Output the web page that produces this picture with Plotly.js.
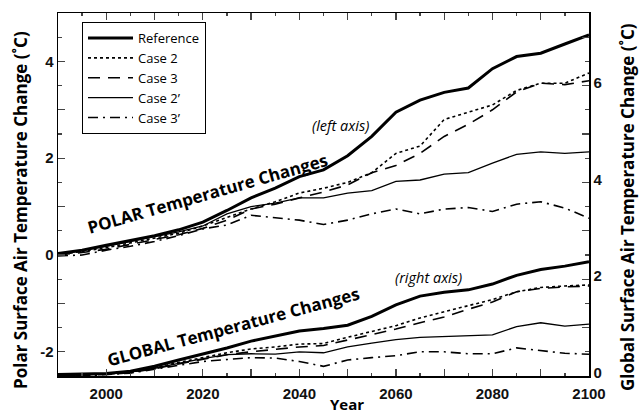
<!DOCTYPE html>
<html>
<head>
<meta charset="utf-8">
<script src="https://cdn.plot.ly/plotly-3.0.1.min.js"></script>
<style>html,body{margin:0;padding:0;background:#fff;}#chart{width:639px;height:414px;}</style>
</head>
<body>
<div id="chart"></div>
<script>
const years = [1990,1995,2000,2005,2010,2015,2020,2025,2030,2035,2040,2045,2050,2055,2060,2065,2070,2075,2080,2085,2090,2095,2100];

// Polar (left axis)
const polarReference = [0.03,0.10,0.20,0.30,0.40,0.52,0.68,0.92,1.18,1.38,1.62,1.76,2.05,2.45,2.95,3.20,3.36,3.45,3.85,4.10,4.17,4.36,4.55];
const polarCase2     = [0.00,0.08,0.15,0.25,0.35,0.45,0.60,0.78,0.95,1.10,1.28,1.38,1.50,1.70,2.10,2.25,2.80,2.95,3.10,3.40,3.55,3.55,3.76];
const polarCase3     = [0.00,0.05,0.12,0.22,0.32,0.42,0.55,0.72,0.95,1.05,1.18,1.30,1.45,1.70,1.85,2.10,2.45,2.70,3.00,3.37,3.55,3.52,3.60];
const polarCase2p    = [0.00,0.10,0.18,0.28,0.38,0.48,0.60,0.85,1.00,1.07,1.18,1.18,1.28,1.33,1.52,1.55,1.67,1.70,1.90,2.08,2.13,2.10,2.13];
const polarCase3p    = [-0.02,0.00,0.10,0.18,0.28,0.40,0.54,0.62,0.82,0.77,0.72,0.63,0.72,0.85,0.95,0.85,0.95,0.98,0.90,1.05,1.10,0.97,0.76];

// Global (right axis)
const globalReference = [0.03,0.04,0.05,0.10,0.20,0.33,0.45,0.58,0.72,0.83,0.93,0.98,1.05,1.23,1.47,1.65,1.73,1.78,1.90,2.08,2.20,2.27,2.36];
const globalCase2     = [0.00,0.02,0.04,0.08,0.17,0.28,0.38,0.48,0.56,0.60,0.66,0.67,0.80,0.92,1.04,1.20,1.33,1.45,1.58,1.74,1.83,1.86,1.88];
const globalCase3     = [0.00,0.02,0.03,0.07,0.15,0.25,0.35,0.44,0.50,0.55,0.60,0.63,0.74,0.86,0.97,1.10,1.22,1.38,1.53,1.74,1.81,1.84,1.86];
const globalCase2p    = [0.00,0.02,0.04,0.08,0.16,0.26,0.36,0.44,0.46,0.45,0.50,0.48,0.60,0.68,0.75,0.80,0.82,0.83,0.85,1.02,1.10,1.03,1.07];
const globalCase3p    = [0.00,0.00,0.03,0.06,0.14,0.22,0.30,0.34,0.38,0.37,0.30,0.20,0.33,0.38,0.42,0.50,0.50,0.46,0.46,0.58,0.52,0.47,0.45];

const seriesNames = ['Reference','Case 2','Case 3','Case 2\u2019','Case 3\u2019'];
const xTickVals = [1990,2000,2010,2020,2030,2040,2050,2060,2070,2080,2090,2100];
const xTickText = ['','2000','','2020','','2040','','2060','','2080','','2100'];
const yLeftTickVals = [-2,-1,0,1,2,3,4];
const yLeftTickText = ['-2','','0','','2','','4'];
const yRightTickVals = [0,1,2,3,4,5,6,7];
const yRightTickText = ['0','','2','','4','','6',''];

const styles = [
  {width:3, dash:'solid'},
  {width:1.6, dash:'dot'},
  {width:1.6, dash:'12px,8px'},
  {width:1.3, dash:'solid'},
  {width:1.6, dash:'10px,5px,2px,5px'}
];
const polar = [polarReference, polarCase2, polarCase3, polarCase2p, polarCase3p];
const glob = [globalReference, globalCase2, globalCase3, globalCase2p, globalCase3p];

const traces = [];
polar.forEach((s,i)=>traces.push({x:years,y:s,type:'scatter',mode:'lines',name:seriesNames[i],
  line:{color:'#000',width:styles[i].width,dash:styles[i].dash},yaxis:'y',showlegend:true}));
glob.forEach((s,i)=>traces.push({x:years,y:s,type:'scatter',mode:'lines',name:seriesNames[i],
  line:{color:'#000',width:styles[i].width,dash:styles[i].dash},yaxis:'y2',showlegend:false}));

const tickFont = {family:'Liberation Sans, Arial, sans-serif', size:15, color:'#111', weight:'bold'};
const titleFont = {family:'Open Sans, sans-serif', size:17, color:'#000', weight:'bold'};
const px2x = p => (p-58)/531;
const px2y = p => 1-(p-13)/363;

const layout = {
  width:639, height:414,
  margin:{l:58, r:50, t:13, b:38},
  paper_bgcolor:'#fff', plot_bgcolor:'#fff',
  showlegend:true,
  legend:{x:px2x(82), y:px2y(22), xanchor:'left', yanchor:'top', bgcolor:'#fff', bordercolor:'#000', borderwidth:1,
    font:{family:'Open Sans, sans-serif', size:13, color:'#000'}, tracegroupgap:0, itemwidth:45},
  xaxis:{range:[1990,2100], tickvals:xTickVals, ticktext:xTickText, ticks:'inside', ticklen:7, tickwidth:1.3,
    minor:{tick0:1990, dtick:5, ticks:'inside', ticklen:3, tickwidth:1.3},
    showline:true, linecolor:'#000', linewidth:1.5, mirror:'ticks', showgrid:false, zeroline:false,
    tickfont:tickFont, ticklabelstandoff:3},
  yaxis:{range:[-2.5,5], tickvals:yLeftTickVals, ticktext:yLeftTickText, ticks:'inside', ticklen:7, tickwidth:1.3,
    minor:{tick0:0, dtick:0.5, ticks:'inside', ticklen:4, tickwidth:1.3},
    showline:true, linecolor:'#000', linewidth:1.5, showgrid:false, zeroline:false,
    tickfont:tickFont},
  yaxis2:{range:[0,7.5], overlaying:'y', side:'right', tickvals:yRightTickVals, ticktext:yRightTickText, ticks:'inside', ticklen:7, tickwidth:1.3,
    minor:{tick0:0, dtick:0.5, ticks:'inside', ticklen:4, tickwidth:1.3},
    showline:true, linecolor:'#000', linewidth:1.5, showgrid:false, zeroline:false,
    tickfont:tickFont, ticklabelshift:-3},
  annotations:[
    {text:'Polar Surface Air Temperature Change (\u02DAC)', xref:'paper', yref:'paper', x:px2x(20), y:px2y(210),
      xanchor:'center', yanchor:'middle', textangle:-90, showarrow:false, font:titleFont},
    {text:'Global Surface Air Temperature Change (\u02DAC)', xref:'paper', yref:'paper', x:px2x(628), y:px2y(207),
      xanchor:'center', yanchor:'middle', textangle:-90, showarrow:false, font:titleFont},
    {text:'Year', xref:'paper', yref:'paper', x:px2x(347), y:px2y(404),
      xanchor:'center', yanchor:'middle', showarrow:false, font:{family:'Open Sans, sans-serif', size:15, color:'#000', weight:'bold'}},
    {text:'POLAR Temperature Changes', xref:'paper', yref:'paper', x:px2x(207), y:px2y(193), xanchor:'center', yanchor:'middle', showarrow:false,
      textangle:-16, font:{family:'Open Sans, sans-serif', size:17, color:'#000', weight:'bold'}},
    {text:'GLOBAL Temperature Changes', xref:'paper', yref:'paper', x:px2x(233), y:px2y(326), xanchor:'center', yanchor:'middle', showarrow:false,
      textangle:-15, font:{family:'Open Sans, sans-serif', size:17, color:'#000', weight:'bold'}},
    {text:'(left axis)', xref:'paper', yref:'paper', x:px2x(340), y:px2y(125), xanchor:'center', yanchor:'middle', showarrow:false,
      font:{family:'Open Sans, sans-serif', size:14.5, color:'#000', style:'italic'}},
    {text:'(right axis)', xref:'paper', yref:'paper', x:px2x(428), y:px2y(277), xanchor:'center', yanchor:'middle', showarrow:false,
      font:{family:'Open Sans, sans-serif', size:14.5, color:'#000', style:'italic'}}
  ]
};

Plotly.newPlot('chart', traces, layout, {staticPlot:true, displayModeBar:false});
</script>
</body>
</html>
